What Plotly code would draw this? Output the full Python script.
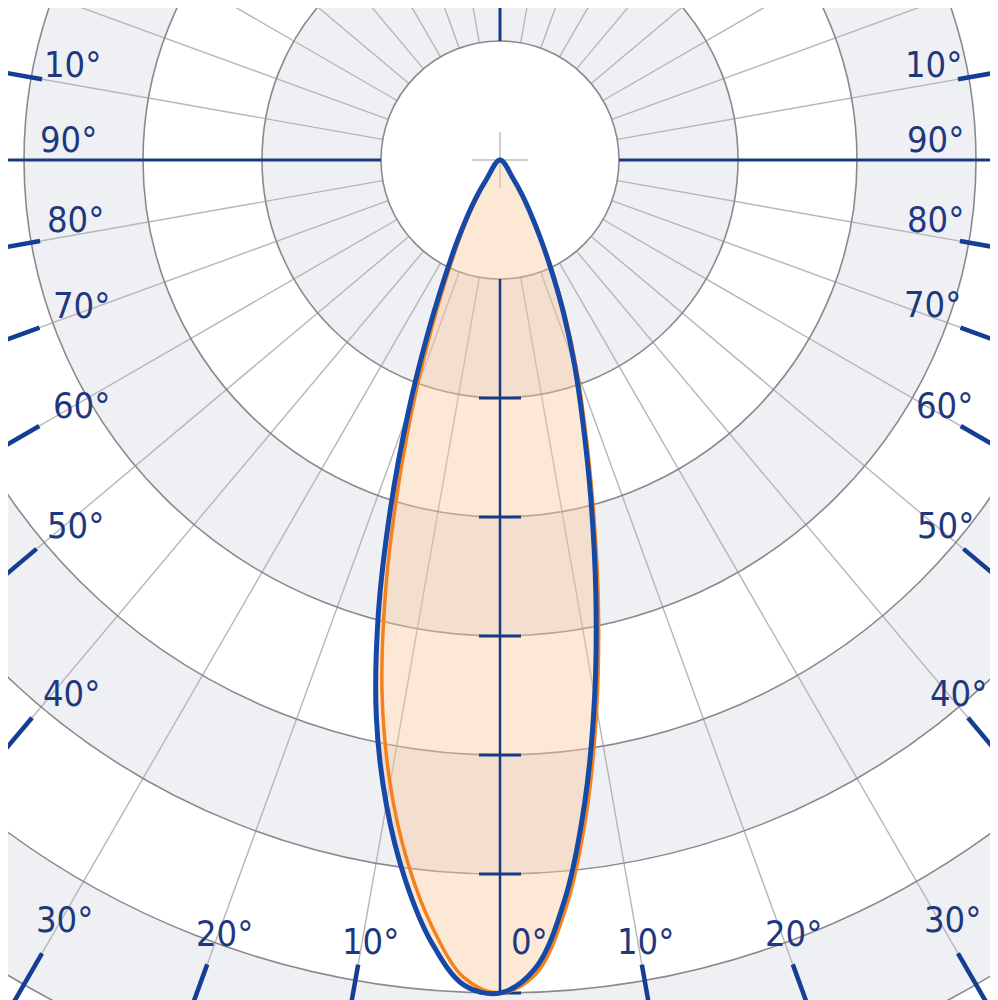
import numpy as np
import plotly.graph_objects as go

# ---------------- data ----------------
# gamma angle measured from nadir (0 deg = straight down), left side negative
angles_deg = [-40, -35, -32.5, -30, -27.5, -25, -22.5, -20, -17.5, -15, -12.5, -10, -7.5, -5, -2.5,
              0, 2.5, 5, 7.5, 10, 12.5, 15, 17.5, 20, 22.5, 25, 27.5, 30, 32.5, 35, 40]
# relative luminous intensity (1 unit = one grid ring)
intensity_c0_c180 = [0.0, 0.20, 0.37, 0.56, 0.80, 1.12, 1.60, 2.25, 3.05, 3.95, 4.80, 5.50, 6.10, 6.60, 6.94,
                     7.00, 6.80, 6.24, 5.45, 4.58, 3.72, 2.95, 2.32, 1.83, 1.40, 1.02, 0.72, 0.50, 0.34, 0.20, 0.0]
intensity_c90_c270 = [0.0, 0.165, 0.32, 0.50, 0.72, 1.01, 1.44, 2.05, 2.81, 3.70, 4.58, 5.32, 5.95, 6.48, 6.88,
                      7.00, 6.85, 6.32, 5.55, 4.68, 3.82, 3.03, 2.39, 1.89, 1.45, 1.06, 0.75, 0.52, 0.36, 0.215, 0.0]

ring_radii = [1, 2, 3, 4, 5, 6, 7, 8]
axis_tick_radii = [2, 3, 4, 5, 6, 7]
spoke_angles = [10, 20, 30, 40, 50, 60, 70, 80, 100, 110, 120, 130, 140, 150, 160, 170]
frame_tick_angles = [10, 20, 30, 40, 50, 60, 70, 80, 100]
label_angles = [10, 20, 30, 40, 50, 60, 70, 80, 90, 100]
label_texts = ["10°", "20°", "30°", "40°", "50°", "60°", "70°", "80°", "90°", "10°"]
zero_label = "0°"

# ---------------- layout geometry (pixels of the 998x1000 reference frame) ----------------
PX = 119.0             # pixels per ring
CX, CY = 500.0, 160.0  # pole position in reference pixels
PAGE_OFF = 8           # default page margin of the html body
W, H = 998 - PAGE_OFF, 1000 - PAGE_OFF
frame_tick_inner_px = [817, 856, 916, 728, 605, 532, 490, 467, 465]
left_label_px = [(370, 941), (224, 933), (64, 919), (71, 693), (75, 525), (81, 405), (81, 305), (75, 219), (68, 139), (72, 64)]
right_label_px = [(645, 941), (793, 933), (952, 919), (958, 693), (945, 525), (944, 405), (932, 304), (935, 219), (935, 139), (933, 64)]
zero_label_px = (529, 941)


def px2x(px):
    return (px - CX) / PX


def px2y(py):
    return (CY - py) / PX


def polar_xy(r, ang_deg, side=1):
    a = np.radians(ang_deg)
    return side * r * np.sin(a), -r * np.cos(a)


BAND_GRAY = "#eff0f3"
RING_COL = "rgb(138,138,140)"
SPOKE_COL = "rgb(182,182,184)"
NAVY = "rgb(24,58,132)"
BLUE = "rgb(22,72,166)"
ORANGE = "rgb(244,130,28)"
TEXT_COL = "rgb(30,56,128)"

shapes = []
# alternating bands
for r in sorted(ring_radii, reverse=True):
    shapes.append(dict(type="circle", xref="x", yref="y", x0=-r, x1=r, y0=-r, y1=r,
                       fillcolor=BAND_GRAY if r % 2 == 0 else "white",
                       line=dict(width=0), layer="below"))
# spokes
for a in spoke_angles:
    for side in (-1, 1):
        x0, y0 = polar_xy(ring_radii[0], a, side)
        x1, y1 = polar_xy(12, a, side)
        shapes.append(dict(type="line", xref="x", yref="y", x0=x0, y0=y0, x1=x1, y1=y1,
                           line=dict(color=SPOKE_COL, width=1.4), layer="below"))
# ring outlines
for r in ring_radii:
    shapes.append(dict(type="circle", xref="x", yref="y", x0=-r, x1=r, y0=-r, y1=r,
                       line=dict(color=RING_COL, width=1.6), layer="below"))

fig = go.Figure()

# small centre cross
cr = 28 / PX
fig.add_trace(go.Scatter(x=[-cr, cr, None, 0, 0], y=[0, 0, None, -cr, cr], mode="lines",
                         line=dict(color="rgb(190,190,192)", width=1.5), hoverinfo="skip", showlegend=False))

# lobe coordinates
th = np.radians(angles_deg)
bx = np.array(intensity_c0_c180) * np.sin(th)
by = -np.array(intensity_c0_c180) * np.cos(th)
ox = np.array(intensity_c90_c270) * np.sin(th)
oy = -np.array(intensity_c90_c270) * np.cos(th)

# lobe fill
fig.add_trace(go.Scatter(x=bx, y=by, mode="lines", fill="toself",
                         fillcolor="rgba(250,198,155,0.42)", line=dict(width=0, shape="spline"),
                         hoverinfo="skip", showlegend=False))

# main axes
big = 20
r0 = ring_radii[0]
fig.add_trace(go.Scatter(x=[-big, -r0, None, r0, big, None, 0, 0],
                         y=[0, 0, None, 0, 0, None, r0, big], mode="lines",
                         line=dict(color=NAVY, width=3), hoverinfo="skip", showlegend=False))
fig.add_trace(go.Scatter(x=[0, 0], y=[-r0, -max(axis_tick_radii)], mode="lines",
                         line=dict(color=NAVY, width=2.5), hoverinfo="skip", showlegend=False))
tw = 21 / PX
tx, ty = [], []
for r in axis_tick_radii:
    tx += [-tw, tw, None]
    ty += [-r, -r, None]
fig.add_trace(go.Scatter(x=tx, y=ty, mode="lines", line=dict(color=NAVY, width=3),
                         hoverinfo="skip", showlegend=False))

# frame ticks
fx, fy = [], []
for a, rin in zip(frame_tick_angles, frame_tick_inner_px):
    for side in (-1, 1):
        x0, y0 = polar_xy(rin / PX, a, side)
        x1, y1 = polar_xy(rin / PX + 1.5, a, side)
        fx += [x0, x1, None]
        fy += [y0, y1, None]
fig.add_trace(go.Scatter(x=fx, y=fy, mode="lines", line=dict(color="rgb(20,62,148)", width=4.5),
                         hoverinfo="skip", showlegend=False))

# curves
fig.add_trace(go.Scatter(x=ox, y=oy, mode="lines", line=dict(color=ORANGE, width=3.5, shape="spline"),
                         name="C90-C270", hoverinfo="skip", showlegend=False))
fig.add_trace(go.Scatter(x=bx, y=by, mode="lines", line=dict(color=BLUE, width=5, shape="spline"),
                         name="C0-C180", hoverinfo="skip", showlegend=False))

# labels
font = dict(family="Liberation Sans Narrow, DejaVu Sans Condensed, Roboto Condensed, Arial Narrow, sans-serif",
            size=36, color=TEXT_COL)
annotations = []
for txt, (lx, ly), (rx, ry) in zip(label_texts, left_label_px, right_label_px):
    annotations.append(dict(x=px2x(lx), y=px2y(ly), xref="x", yref="y", text=txt, showarrow=False,
                            xanchor="center", yanchor="middle", font=font))
    annotations.append(dict(x=px2x(rx), y=px2y(ry), xref="x", yref="y", text=txt, showarrow=False,
                            xanchor="center", yanchor="middle", font=font))
annotations.append(dict(x=px2x(zero_label_px[0]), y=px2y(zero_label_px[1]), xref="x", yref="y",
                        text=zero_label, showarrow=False, xanchor="center", yanchor="middle", font=font))

fig.update_layout(
    width=W, height=H,
    margin=dict(l=0, r=0, t=0, b=0),
    paper_bgcolor="white", plot_bgcolor="white",
    shapes=shapes, annotations=annotations,
    xaxis=dict(range=[px2x(PAGE_OFF), px2x(998)], visible=False, showgrid=False, zeroline=False, fixedrange=True),
    yaxis=dict(range=[px2y(1000), px2y(PAGE_OFF)], visible=False, showgrid=False, zeroline=False, fixedrange=True),
    showlegend=False,
)

fig.write_html("out.html")
